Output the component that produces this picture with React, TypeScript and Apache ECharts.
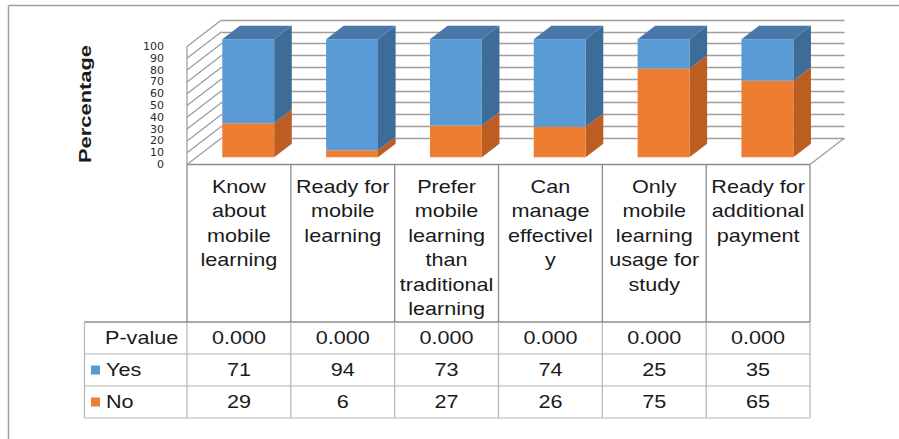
import React, { useEffect, useRef } from "react";
import * as echarts from "echarts";

// ---------- data ----------
const categories = [
  "Know\nabout\nmobile\nlearning",
  "Ready for\nmobile\nlearning",
  "Prefer\nmobile\nlearning\nthan\ntraditional\nlearning",
  "Can\nmanage\neffectivel\ny",
  "Only\nmobile\nlearning\nusage for\nstudy",
  "Ready for\nadditional\npayment",
];
const yesValues = [71, 94, 73, 74, 25, 35];
const noValues = [29, 6, 27, 26, 75, 65];
const pValues = ["0.000", "0.000", "0.000", "0.000", "0.000", "0.000"];
const yTicks = [0, 10, 20, 30, 40, 50, 60, 70, 80, 90, 100];
const rowNames = ["P-value", "Yes", "No"];

// ---------- styles / layout ----------
const FONT = "'Liberation Sans', Arial, sans-serif";
const TXT = "#1a1a1a";
const SX = 1.2; // horizontal stretch of the reference's text
const BLUE = "#5B9BD5";
const BLUE_SIDE = "#3E6C99";
const BLUE_TOP = "#4878AA";
const ORANGE = "#ED7D31";
const ORANGE_SIDE = "#BC5E22";
const ORANGE_TOP = "#C96A2A";
const DX = 34.5;
const DY = -26.5;
const BAR_F1 = 0.27;
const BAR_F2 = 0.78;
const GRID_LEFT = 187;
const GRID_W = 623;
const FRONT_TOP = 46.5;
const GRID_H = 118;
const CAT_TEXT_TOP = 174;
const ROW_LINES = [322, 354, 386, 418];
const ROW_MID = [338, 370, 402];
const TABLE_LEFT = 84.5;
const DARK_LINE = "#8c8c8c";
const LIGHT_LINE = "#b4b4b4";

function txt(text: string, x: number, y: number, opts: any = {}) {
  return {
    type: "text",
    x,
    y,
    scaleX: opts.scaleX ?? SX,
    silent: true,
    style: {
      text,
      fill: TXT,
      fontSize: opts.fontSize ?? 18,
      fontFamily: FONT,
      lineHeight: opts.lineHeight ?? 24.5,
      align: opts.align ?? "center",
      textAlign: opts.align ?? "center",
      verticalAlign: opts.va ?? "middle",
      textVerticalAlign: opts.va ?? "middle",
    },
  };
}

function line(x1: number, y1: number, x2: number, y2: number, stroke: string, w = 1.2) {
  return {
    type: "line",
    silent: true,
    shape: { x1, y1, x2, y2 },
    style: { stroke, lineWidth: w },
  };
}

export default function App() {
  const ref = useRef<HTMLDivElement>(null);

  useEffect(() => {
    if (!ref.current) return;
    const chart = echarts.init(ref.current, undefined, { renderer: "svg" });

    const wallRender = (params: any, api: any) => {
      const v = api.value(1);
      const cs = params.coordSys;
      const x0 = cs.x;
      const x1 = cs.x + cs.width;
      const y = api.coord([0, v])[1];
      const children: any[] = [line(x0, y, x0 + DX, y + DY, "#9a9a9a", 1.2)];
      if (v === 0) {
        const yTop = api.coord([0, 100])[1];
        children.push(line(x0, y, x0, yTop, "#9a9a9a", 1.2));
        children.push(line(x1, y, x1 + DX, y + DY, "#9a9a9a", 1.2));
        children.push(line(x0, y, x1, y, DARK_LINE, 1.4));
      }
      return { type: "group", children };
    };

    const barRender = (params: any, api: any) => {
      const i = api.value(0);
      const no = api.value(1);
      const yes = api.value(2);
      const c = api.coord([i, 0]);
      const bw = api.size([1, 0])[0] * 0.5;
      const fx = DX * BAR_F1;
      const fy = DY * BAR_F1;
      const sx = DX * (BAR_F2 - BAR_F1);
      const sy = DY * (BAR_F2 - BAR_F1);
      const xL = c[0] - bw / 2 + fx;
      const xR = xL + bw;
      const segs = [
        { v0: 0, v1: no, front: ORANGE, side: ORANGE_SIDE, top: ORANGE_TOP },
        { v0: no, v1: no + yes, front: BLUE, side: BLUE_SIDE, top: BLUE_TOP },
      ];
      const children: any[] = [];
      segs.forEach((s, k) => {
        const y0 = api.coord([i, s.v0])[1] + fy;
        const y1 = api.coord([i, s.v1])[1] + fy;
        children.push({
          type: "polygon",
          shape: { points: [[xR, y0], [xR + sx, y0 + sy], [xR + sx, y1 + sy], [xR, y1]] },
          style: { fill: s.side },
        });
        children.push({
          type: "rect",
          shape: { x: xL, y: y1, width: bw, height: y0 - y1 },
          style: { fill: s.front },
        });
        if (k === segs.length - 1) {
          children.push({
            type: "polygon",
            shape: { points: [[xL, y1], [xL + sx, y1 + sy], [xR + sx, y1 + sy], [xR, y1]] },
            style: { fill: s.top },
          });
        }
      });
      return { type: "group", children };
    };

    const tableRender = (params: any, api: any) => {
      const i = api.value(0);
      const cs = params.coordSys;
      const c = api.coord([i, 0]);
      const cx = c[0];
      const bw = api.size([1, 0])[0];
      const left = cx - bw / 2;
      const right = cx + bw / 2;
      const yFloor = api.coord([i, 0])[1];
      const children: any[] = [];
      children.push(line(left, yFloor, left, ROW_LINES[0], DARK_LINE, 1.3));
      children.push(line(left, ROW_LINES[0], left, ROW_LINES[3], LIGHT_LINE, 1.2));
      if (i === categories.length - 1) {
        children.push(line(right, yFloor, right, ROW_LINES[0], DARK_LINE, 1.3));
        children.push(line(right, ROW_LINES[0], right, ROW_LINES[3], LIGHT_LINE, 1.2));
      }
      children.push(txt(categories[i], cx, CAT_TEXT_TOP, { va: "top" }));
      children.push(txt(pValues[i], cx, ROW_MID[0]));
      children.push(txt(String(yesValues[i]), cx, ROW_MID[1]));
      children.push(txt(String(noValues[i]), cx, ROW_MID[2]));
      if (i === 0) {
        const xEnd = cs.x + cs.width;
        children.push(line(TABLE_LEFT, ROW_LINES[0], xEnd, ROW_LINES[0], DARK_LINE, 1.3));
        for (let r = 1; r < ROW_LINES.length; r++) {
          children.push(line(TABLE_LEFT, ROW_LINES[r], xEnd, ROW_LINES[r], LIGHT_LINE, 1.2));
        }
        children.push(line(TABLE_LEFT, ROW_LINES[0], TABLE_LEFT, ROW_LINES[3], LIGHT_LINE, 1.2));
        children.push(txt(rowNames[0], 105, ROW_MID[0], { align: "left" }));
        children.push(txt(rowNames[1], 106, ROW_MID[1], { align: "left" }));
        children.push(txt(rowNames[2], 106, ROW_MID[2], { align: "left" }));
        children.push({
          type: "rect",
          shape: { x: 91, y: ROW_MID[1] - 4.5, width: 9, height: 9 },
          style: { fill: BLUE },
        });
        children.push({
          type: "rect",
          shape: { x: 91, y: ROW_MID[2] - 4.5, width: 9, height: 9 },
          style: { fill: ORANGE },
        });
      }
      return { type: "group", children };
    };

    const option: any = {
      animation: false,
      backgroundColor: "#ffffff",
      grid: [
        { left: GRID_LEFT, top: FRONT_TOP, width: GRID_W, height: GRID_H },
        { left: GRID_LEFT + DX, top: FRONT_TOP + DY, width: GRID_W, height: GRID_H },
      ],
      xAxis: [
        {
          type: "category",
          gridIndex: 0,
          data: categories,
          axisLine: { show: false },
          axisTick: { show: false },
          axisLabel: { show: false },
          splitLine: { show: false },
        },
        {
          type: "value",
          gridIndex: 1,
          min: 0,
          max: 1,
          show: false,
        },
      ],
      yAxis: [
        {
          type: "value",
          gridIndex: 0,
          min: 0,
          max: 100,
          interval: 10,
          axisLine: { show: false },
          axisTick: { show: false },
          splitLine: { show: false },
          axisLabel: {
            show: true,
            margin: 23,
            fontSize: 11,
            lineHeight: 11,
            fontFamily: "'DejaVu Sans', sans-serif",
            color: "#2a2a2a",
            showMinLabel: true,
            showMaxLabel: true,
            hideOverlap: false,
          },
        },
        {
          type: "value",
          gridIndex: 1,
          min: 0,
          max: 100,
          interval: 10,
          axisLine: { show: false },
          axisTick: { show: false },
          axisLabel: { show: false },
          splitLine: { show: true, lineStyle: { color: "#9e9e9e", width: 1.4 } },
        },
      ],
      graphic: [
        {
          type: "line",
          shape: { x1: 8.5, y1: 5.5, x2: 899, y2: 5.5 },
          style: { stroke: "#a0a0a0", lineWidth: 1.5 },
        },
        {
          type: "line",
          shape: { x1: 8.5, y1: 5.5, x2: 8.5, y2: 439 },
          style: { stroke: "#a0a0a0", lineWidth: 1.5 },
        },
        {
          type: "text",
          x: 86,
          y: 104,
          rotation: Math.PI / 2,
          scaleX: 1.37,
          style: {
            text: "Percentage",
            fill: TXT,
            fontSize: 16,
            fontWeight: "bold",
            fontFamily: FONT,
            align: "center",
            textAlign: "center",
            verticalAlign: "middle",
            textVerticalAlign: "middle",
          },
        },
      ],
      series: [
        {
          type: "custom",
          name: "walls",
          xAxisIndex: 0,
          yAxisIndex: 0,
          renderItem: wallRender,
          data: yTicks.map((v) => [0, v]),
          encode: { x: 0, y: 1 },
          silent: true,
          z: 1,
        },
        {
          type: "custom",
          name: "bars",
          xAxisIndex: 0,
          yAxisIndex: 0,
          renderItem: barRender,
          data: categories.map((_, i) => [i, noValues[i], yesValues[i]]),
          encode: { x: 0, y: 1 },
          silent: true,
          z: 3,
        },
        {
          type: "custom",
          name: "table",
          xAxisIndex: 0,
          yAxisIndex: 0,
          renderItem: tableRender,
          data: categories.map((_, i) => [i, 0]),
          encode: { x: 0, y: 1 },
          silent: true,
          z: 2,
        },
      ],
    };

    chart.setOption(option);
    return () => chart.dispose();
  }, []);

  return (
    <div
      ref={ref}
      style={{ position: "fixed", left: 0, top: 0, width: 899, height: 439, background: "#fff" }}
    />
  );
}
